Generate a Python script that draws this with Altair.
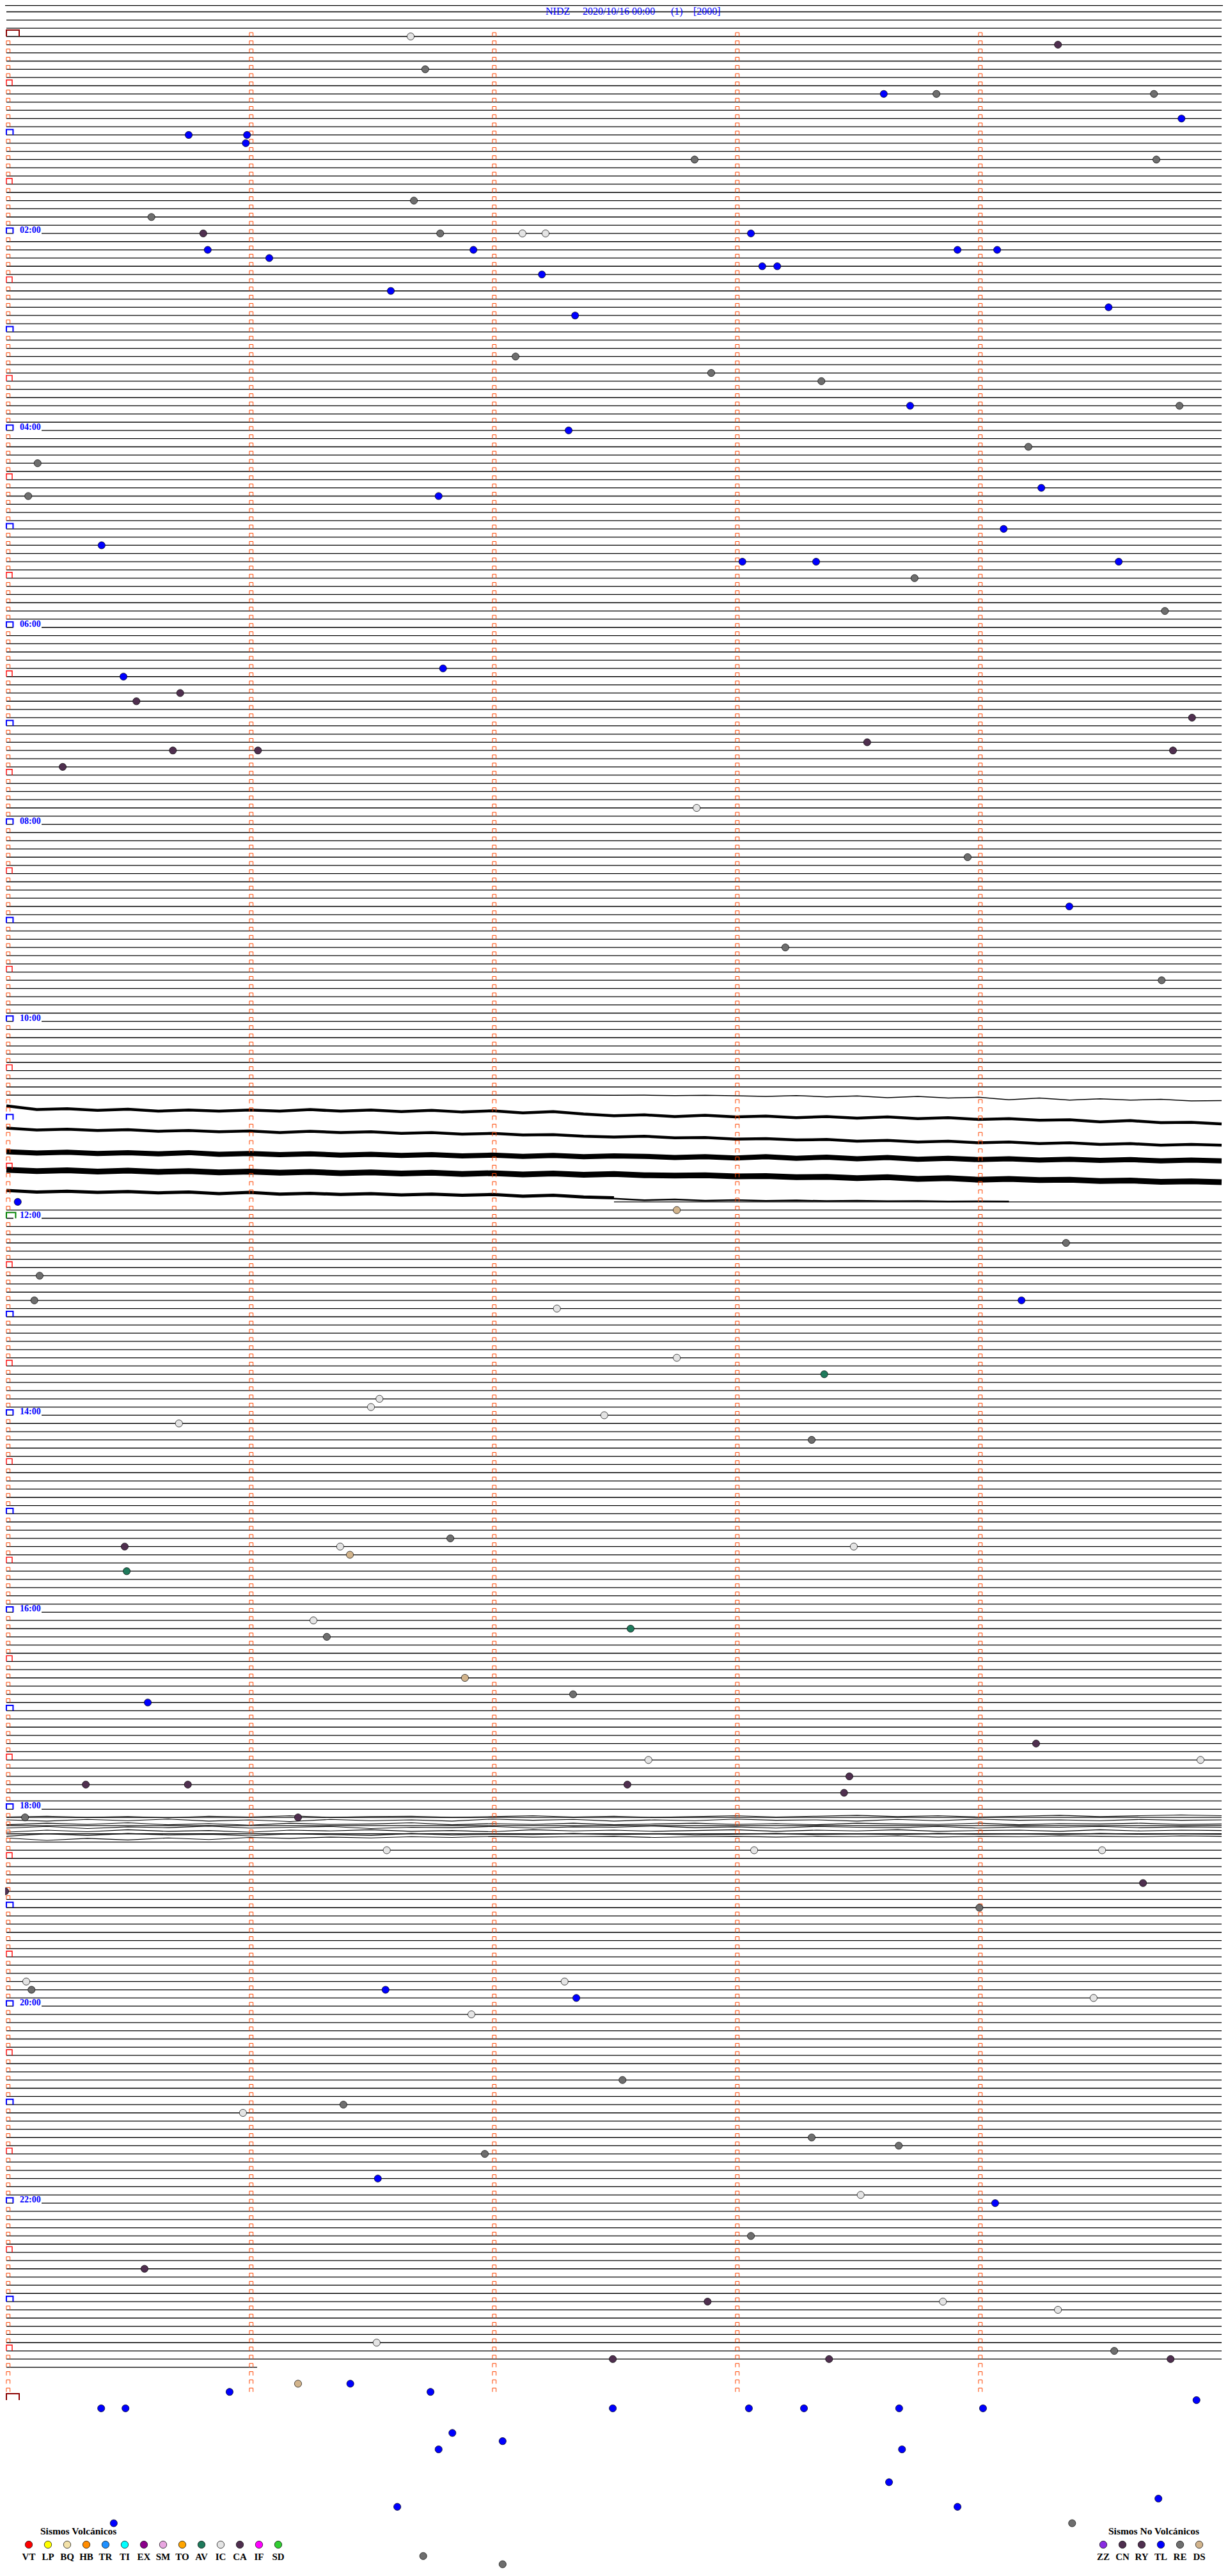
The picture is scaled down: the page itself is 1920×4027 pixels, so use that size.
import altair as alt
import numpy as np
import pandas as pd

# ---------------- data ----------------
station_title = ["NIDZ", "2020/10/16 00:00", "(1)", "[2000]"]
hour_labels = ["02:00", "04:00", "06:00", "08:00", "10:00", "12:00",
               "14:00", "16:00", "18:00", "20:00", "22:00"]

vol_title = "Sismos Volcánicos"
vol_codes = ["VT", "LP", "BQ", "HB", "TR", "TI", "EX", "SM", "TO", "AV", "IC", "CA", "IF", "SD"]
vol_colors = ["#FF0000", "#FFFF00", "#F3E2A9", "#FF8C00", "#1E90FF", "#00FFFF", "#8B008B",
              "#E8A6E0", "#FFA500", "#1F7A5C", "#E4E4E4", "#4F2F4F", "#FF00FF", "#32CD32"]
nv_title = "Sismos No Volcánicos"
nv_codes = ["ZZ", "CN", "RY", "TL", "RE", "DS"]
nv_colors = ["#8A2BE2", "#4F2F4F", "#4F2F4F", "#0000FF", "#6E6E6E", "#D2B48C"]

# events: row (5-minute line index from 00:00), seconds within the row, type
ev_row = [0, 1, 4, 7, 7, 7, 10, 12, 12, 13, 15, 15, 20, 22, 24, 24, 24, 24, 24, 26,
          26, 26, 26, 27, 28, 28, 29, 31, 33, 34, 39, 41, 42, 45, 45, 48, 50, 52, 55, 56,
          56, 60, 62, 64, 64, 64, 66, 70, 78, 77, 80, 81, 83, 86, 87, 87, 87, 89, 94, 100,
          106, 111, 115, 142, 143, 147, 151, 154, 155, 154, 161, 163, 166, 167, 168, 169, 171, 184, 184, 183,
          185, 184, 187, 193, 195, 194, 200, 202, 203, 208, 210, 210, 212, 213, 213, 213, 214, 217, 217, 221,
          221, 221, 225, 226, 228, 237, 238, 238, 237, 239, 239, 241, 249, 252, 253, 256, 257, 258, 261, 263,
          264, 268, 272, 276, 276, 277, 281, 282, 283, 283, 283, 286, 286, 287, 287, 288, 289, 289, 289, 289,
          289, 289, 289, 292, 293, 294, 294, 298, 300, 301, 301, 303, 303, 307, 308]
ev_sec = [99.8, 259.6, 103.4, 216.6, 229.6, 283.3, 290.1, 45.0, 59.4, 59.1, 169.9, 283.9, 100.6, 35.8, 48.6, 107.1, 127.4, 133.1, 183.8, 49.7,
          115.3, 234.8, 244.6, 64.9, 186.6, 190.3, 132.2, 94.9, 272.1, 140.4, 125.7, 174.0, 201.2, 223.1, 289.6, 138.8, 252.3, 7.7, 255.5, 5.4,
          106.7, 246.2, 23.5, 181.7, 199.9, 274.6, 224.2, 286.0, 28.9, 107.8, 42.9, 32.1, 292.7, 212.5, 41.1, 62.1, 288.0, 13.9, 170.4, 237.3,
          262.4, 192.3, 285.2, 2.8, 165.5, 261.6, 8.2, 6.9, 135.9, 250.6, 165.5, 201.9, 92.1, 90.0, 147.6, 42.6, 198.8, 29.2, 82.4, 109.6,
          84.8, 209.2, 29.7, 75.8, 79.1, 154.1, 113.2, 139.9, 34.9, 254.2, 158.5, 294.8, 208.1, 19.6, 44.8, 153.3, 206.8, 4.6, 72.0, 93.9,
          184.6, 270.5, 280.6, -0.3, 240.2, 4.9, 6.2, 93.6, 137.8, 140.7, 268.4, 114.8, 152.1, 83.2, 58.4, 198.8, 220.3, 118.1, 91.7, 210.9,
          244.1, 183.8, 34.1, 173.1, 231.2, 259.6, 91.4, 273.5, 149.7, 203.1, 287.4, 72.0, 84.9, 55.1, 104.7, 293.8, 23.4, 29.4, 149.7, 183.3,
          196.9, 220.4, 241.1, 110.1, 122.5, 106.7, 221.1, 217.9, 284.4, 96.5, 234.8, 26.5, 263.1, 102.9, 122.5]
ev_type = ["IC", "CA", "RE", "TL", "RE", "RE", "TL", "TL", "TL", "TL", "RE", "RE", "RE", "RE", "CA", "RE", "IC", "IC", "TL", "TL",
           "TL", "TL", "TL", "TL", "TL", "TL", "TL", "TL", "TL", "TL", "RE", "RE", "RE", "TL", "RE", "TL", "RE", "RE", "TL", "RE",
           "TL", "TL", "TL", "TL", "TL", "TL", "RE", "RE", "TL", "TL", "CA", "CA", "CA", "CA", "CA", "CA", "CA", "CA", "IC", "RE",
           "TL", "RE", "RE", "TL", "DS", "RE", "RE", "RE", "IC", "TL", "IC", "AV", "IC", "IC", "IC", "IC", "RE", "CA", "IC", "RE",
           "DS", "IC", "AV", "IC", "RE", "AV", "DS", "RE", "TL", "CA", "IC", "IC", "CA", "CA", "CA", "CA", "CA", "RE", "CA", "IC",
           "IC", "IC", "CA", "CA", "RE", "IC", "RE", "TL", "IC", "TL", "IC", "IC", "RE", "RE", "IC", "RE", "RE", "RE", "TL", "IC",
           "TL", "RE", "CA", "CA", "IC", "IC", "IC", "RE", "CA", "CA", "CA", "DS", "TL", "TL", "TL", "TL", "TL", "TL", "TL", "TL",
           "TL", "TL", "TL", "TL", "TL", "TL", "TL", "TL", "TL", "TL", "TL", "TL", "RE", "RE", "RE"]

# noisy traces around 10:45-11:55 (row position along the line)
trace_129 = [129.0, 129.0, 129.0, 129.0, 129.0, 129.0, 129.0, 129.0, 129.0, 129.0, 129.0, 129.0, 129.0, 129.0,
             129.0, 129.0, 129.0, 129.0, 129.0, 129.0, 129.02, 129.0, 129.05, 129.02, 129.08, 129.15, 129.05,
             129.2, 129.1, 129.3, 129.15, 129.35, 129.25, 129.55, 129.35, 129.6, 129.45, 129.6, 129.5, 129.7, 129.65]
trace_a = [130.3, 130.75, 130.65, 130.85, 130.7, 130.95, 130.8, 130.95, 130.8, 130.95, 130.75, 130.95, 130.8, 131.0,
           130.85, 131.05, 130.9, 131.15, 131.0, 131.3, 131.5, 131.4, 131.6, 131.45, 131.65, 131.55, 131.75, 131.6,
           131.8, 131.65, 131.85, 131.75, 131.95, 131.85, 132.05, 132.0, 132.25, 132.1, 132.35, 132.3, 132.5]
trace_b = [133.0, 133.25, 133.15, 133.3, 133.2, 133.4, 133.3, 133.45, 133.35, 133.55, 133.4, 133.55, 133.45, 133.65,
           133.55, 133.75, 133.65, 133.85, 133.8, 134.0, 134.1, 134.0, 134.2, 134.15, 134.35, 134.3, 134.45, 134.4,
           134.6, 134.5, 134.7, 134.6, 134.8, 134.7, 134.9, 134.8, 135.0, 134.9, 135.1, 135.0, 135.1]
trace_c = [135.9, 136.05, 135.95, 136.1, 136.0, 136.15, 136.0, 136.2, 136.1, 136.25, 136.15, 136.3, 136.2, 136.35,
           136.25, 136.4, 136.3, 136.45, 136.35, 136.5, 136.4, 136.45, 136.6, 136.5, 136.65, 136.5, 136.7, 136.55,
           136.75, 136.6, 136.8, 136.7, 136.85, 136.75, 136.9, 136.8, 136.95, 136.85, 137.0, 136.9, 137.0]
trace_d = [138.1, 138.25, 138.15, 138.3, 138.2, 138.35, 138.25, 138.4, 138.3, 138.45, 138.35, 138.5, 138.4, 138.55,
           138.45, 138.6, 138.5, 138.65, 138.55, 138.7, 138.6, 138.75, 138.8, 138.75, 138.9, 138.85, 139.0, 138.95,
           139.1, 139.0, 139.2, 139.1, 139.3, 139.2, 139.35, 139.3, 139.45, 139.4, 139.55, 139.5, 139.6]
trace_e = [140.6, 140.8, 140.7, 140.85, 140.75, 140.9, 140.8, 141.0, 140.85, 141.05, 140.95, 141.1, 141.0, 141.15,
           141.05, 141.2, 141.1, 141.3, 141.2, 141.4, 141.5]
trace_e_tail = [141.6, 141.8, 141.7, 141.85, 141.78, 141.88, 141.82, 141.9, 141.86, 141.92, 141.9, 141.95, 141.93, 141.96]

# tangled traces after 18:00
bundle = [
    [216.95, 216.85, 217.0, 216.9, 217.05, 216.85, 216.95, 216.8, 217.0, 216.9, 216.85, 217.0, 216.9, 216.8, 216.95, 216.85,
     217.0, 216.9, 216.8, 216.95, 216.85, 216.75, 216.9, 216.8, 216.95, 216.85, 216.75, 216.9, 216.8, 216.7, 216.8],
    [217.3, 217.45, 217.25, 217.4, 217.2, 217.45, 217.3, 217.5, 217.25, 217.4, 217.3, 217.45, 217.2, 217.35, 217.25, 217.45,
     217.3, 217.4, 217.2, 217.35, 217.3, 217.45, 217.25, 217.4, 217.2, 217.35, 217.3, 217.4, 217.25, 217.35, 217.3],
    [217.9, 217.7, 217.85, 217.65, 217.9, 217.75, 217.95, 217.7, 217.85, 217.8, 217.65, 217.9, 217.75, 217.85, 217.7, 217.9,
     217.8, 217.7, 217.85, 217.75, 217.9, 217.7, 217.8, 217.85, 217.7, 217.9, 217.75, 217.8, 217.7, 217.85, 217.8],
    [218.3, 218.1, 218.35, 218.15, 218.25, 218.05, 218.3, 218.2, 218.1, 218.35, 218.2, 218.25, 218.1, 218.3, 218.15, 218.2,
     218.05, 218.25, 218.15, 218.3, 218.1, 218.2, 218.25, 218.1, 218.3, 218.15, 218.2, 218.1, 218.25, 218.15, 218.2],
    [218.8, 218.55, 218.75, 218.5, 218.7, 218.6, 218.8, 218.55, 218.65, 218.5, 218.7, 218.6, 218.75, 218.5, 218.65, 218.55,
     218.7, 218.6, 218.5, 218.7, 218.55, 218.65, 218.5, 218.7, 218.6, 218.55, 218.7, 218.5, 218.65, 218.55, 218.6],
    [219.3, 219.0, 219.2, 218.95, 219.15, 219.05, 219.25, 219.0, 219.1, 219.2, 218.95, 219.15, 219.05, 219.1, 218.95, 219.1,
     219.0, 219.15, 219.05, 218.95, 219.1, 219.0, 219.1, 218.95, 219.05, 219.0, 219.1, 218.95, 219.05, 219.0, 219.05],
    [219.5, 219.8, 219.55, 219.75, 219.5, 219.7, 219.45, 219.55, 219.4, 219.5, 219.35, 219.45, 219.3, 219.4, 219.35, 219.3,
     219.45, 219.35, 219.3, 219.4, 219.3, 219.35, 219.25, 219.4, 219.3, 219.35, 219.25, 219.3, 219.35, 219.25, 219.3],
]

# ---------------- layout ----------------
W, H = 1904, 4011
PXS = 380.0 / 60.0      # pixels per second
ROWPX = 12.83           # pixels per 5-minute line


def sec_of(px):
    return (px - 10) / PXS


def row_of(py):
    return (py - 57) / ROWPX


xs = alt.Scale(domain=[sec_of(8), sec_of(8 + W)], nice=False, zero=False)
ys = alt.Scale(domain=[row_of(8), row_of(8 + H)], nice=False, zero=False, reverse=True)


def X(f):
    return alt.X(f, type="quantitative", scale=xs, axis=None)


def Y(f):
    return alt.Y(f, type="quantitative", scale=ys, axis=None)


FONT = "Liberation Serif"
BLUE = "#0000FF"

# flat lines
seg = [{"row": row_of(8.6), "a": sec_of(8), "b": sec_of(8 + W)}]
for r in range(-3, 285):
    if 129 <= r <= 141:
        continue
    a, b = 0.0, 300.0
    if r == 142:
        a = 150.0
    if r == 284:
        b = 61.9
    seg.append({"row": r, "a": a, "b": b})
seg_df = pd.DataFrame(seg)
lines = alt.Chart(seg_df).mark_rule(color="black", strokeWidth=1.3).encode(
    x=X("a"), x2="b", y=Y("row"))

# traces: values, start sec, end sec, stroke width
tr = []
trace_specs = [(trace_129, 0, 300, 1.5), (trace_a, 0, 300, 4.5), (trace_b, 0, 300, 4.5),
               (trace_c, 0, 300, 8.0), (trace_d, 0, 300, 9.0), (trace_e, 0, 150, 5.0),
               (trace_e_tail, 150, 247.5, 2.5)]
for b in bundle:
    trace_specs.append((b, 0, 300, 1.1))
for tid, (vals, start, end, w) in enumerate(trace_specs):
    secs = np.linspace(start, end, len(vals))
    for s, v in zip(secs, vals):
        tr.append({"tid": tid, "sec": s, "row": v, "w": w})
tr_df = pd.DataFrame(tr)
traces = alt.Chart(tr_df).mark_line(color="black", interpolate="linear").encode(
    x=X("sec"), y=Y("row"), detail="tid:N",
    strokeWidth=alt.StrokeWidth("w:Q", scale=None))

# mask behind hour labels
lab_rows = [int(h[:2]) * 12 for h in hour_labels]
lab_df = pd.DataFrame({"row": lab_rows, "label": hour_labels,
                       "a": sec_of(21), "b": sec_of(65), "tx": sec_of(31)})
mask = alt.Chart(lab_df).mark_rule(color="white", strokeWidth=3).encode(
    x=X("a"), x2="b", y=Y("row"))
labels = alt.Chart(lab_df).mark_text(
    align="left", baseline="alphabetic", font=FONT, fontSize=14, fontWeight="bold",
    color=BLUE, dy=-1).encode(x=X("tx"), y=Y("row"), text="label:N")

# minute markers
om = []
for r in range(0, 288):
    for k in range(5):
        if k == 0 and r % 6 == 0:
            continue
        om.append({"row": r, "sec": 60 * k})
om_df = pd.DataFrame(om)
orange = alt.Chart(om_df).mark_point(
    shape="M-0.95,1L-0.95,-1L0.95,-1L0.95,1", filled=False, color="#FF4500",
    strokeWidth=1, size=36, opacity=1, xOffset=2.8, yOffset=-3).encode(x=X("sec"), y=Y("row"))

half_df = pd.DataFrame({"row": [r for r in range(288) if r % 12 == 6], "sec": 0})
half = alt.Chart(half_df).mark_point(
    shape="M-1,1L-1,-1L1,-1L1,1", filled=False, color="#FF0000",
    strokeWidth=1.4, size=81, opacity=1, xOffset=4.5, yOffset=-4.5).encode(x=X("sec"), y=Y("row"))

hour_df = pd.DataFrame({"row": [r for r in range(288) if r % 12 == 0 and r not in (0, 144)], "sec": 0})
hourm = alt.Chart(hour_df).mark_point(
    shape="M-1,0.8L-1,-0.8L1,-0.8L1,0.8", filled=False, color=BLUE,
    strokeWidth=2, size=110, opacity=1, xOffset=5.2, yOffset=-4.2).encode(x=X("sec"), y=Y("row"))

day_df = pd.DataFrame({"row": [0, 288], "sec": 0})
daym = alt.Chart(day_df).mark_point(
    shape="M-1,0.5L-1,-0.5L1,-0.5L1,0.5", filled=False, color="#8B0000",
    strokeWidth=2, size=400, opacity=1, xOffset=10, yOffset=-5).encode(x=X("sec"), y=Y("row"))

noon_df = pd.DataFrame({"row": [144], "sec": 0})
noonm = alt.Chart(noon_df).mark_point(
    shape="M-1,0.62L-1,-0.62L1,-0.62L1,0.62", filled=False, color="#008000",
    strokeWidth=2, size=210, opacity=1, xOffset=7.2, yOffset=-4.5).encode(x=X("sec"), y=Y("row"))

# events
all_codes = vol_codes + nv_codes
all_colors = vol_colors + nv_colors
cscale = alt.Scale(domain=all_codes, range=all_colors)
ev_df = pd.DataFrame({"row": ev_row, "sec": ev_sec, "type": ev_type})
events = alt.Chart(ev_df).mark_circle(size=125, stroke="black", strokeWidth=0.7, opacity=1).encode(
    x=X("sec"), y=Y("row"), color=alt.Color("type:N", scale=cscale, legend=None))

# custom legend
lg = []
for i, c in enumerate(vol_codes):
    lg.append({"type": c, "sec": sec_of(45 + 30 * i)})
for i, c in enumerate(nv_codes):
    lg.append({"type": c, "sec": sec_of(1725 + 30 * i)})
lg_df = pd.DataFrame(lg)
lg_df["crow"] = row_of(3978)
lg_df["trow"] = row_of(4002)
lg_circ = alt.Chart(lg_df).mark_circle(size=130, stroke="black", strokeWidth=0.7, opacity=1).encode(
    x=X("sec"), y=Y("crow"), color=alt.Color("type:N", scale=cscale, legend=None))
lg_text = alt.Chart(lg_df).mark_text(
    align="center", baseline="alphabetic", font=FONT, fontSize=15, fontWeight="bold", color="black").encode(
    x=X("sec"), y=Y("trow"), text="type:N")
lt_df = pd.DataFrame({"t": [vol_title, nv_title], "sec": [sec_of(63), sec_of(1733)], "row": row_of(3962)})
lg_title = alt.Chart(lt_df).mark_text(
    align="left", baseline="alphabetic", font=FONT, fontSize=15.5, fontWeight="bold", color="black").encode(
    x=X("sec"), y=Y("row"), text="t:N")

# station title
tt_df = pd.DataFrame({"t": station_title,
                      "sec": [sec_of(853), sec_of(911), sec_of(1049), sec_of(1084)],
                      "row": row_of(22.5)})
title = alt.Chart(tt_df).mark_text(
    align="left", baseline="alphabetic", font=FONT, fontSize=16, color=BLUE).encode(
    x=X("sec"), y=Y("row"), text="t:N")

chart = alt.layer(lines, traces, mask, orange, half, hourm, daym, noonm, labels,
                  events, lg_circ, lg_text, lg_title, title).properties(
    width=W, height=H, padding=0, autosize=alt.AutoSizeParams(type="none"),
    background="white").configure_view(stroke=None)

chart.save("out.html", embed_options={"renderer": "svg", "actions": False})
